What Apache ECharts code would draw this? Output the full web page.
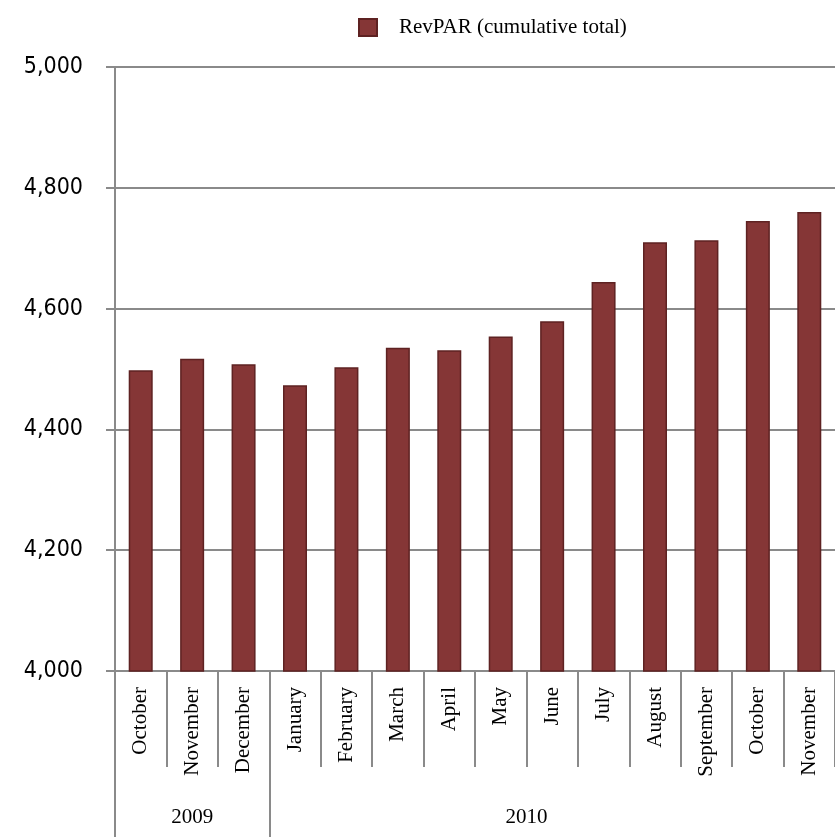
<!DOCTYPE html>
<html>
<head>
<meta charset="utf-8">
<script src="https://cdn.jsdelivr.net/npm/echarts@6/dist/echarts.min.js"></script>
<style>
  html, body { margin: 0; padding: 0; background: #fff; }
  #chart { width: 835px; height: 837px; }
</style>
</head>
<body>
<div id="chart"></div>
<script>
// months shown on the axis
const months = ['October', 'November', 'December', 'January', 'February', 'March', 'April',
  'May', 'June', 'July', 'August', 'September', 'October', 'November']
// RevPAR cumulative total
const revpar = [4498, 4517, 4508, 4473, 4503, 4535, 4531, 4554, 4579, 4644, 4710, 4713, 4745, 4760]
// year groups (label, where it sits in category units, group boundaries)
const years = ['2009', '2010']
const yearLabelAt = [1, 7.5]
const yearBounds = [-0.5, 2.5]
const yTicks = [4000, 4200, 4400, 4600, 4800, 5000]

const gray = '#8a8a8a'
const serif = 'Liberation Serif'

const chart = echarts.init(document.getElementById('chart'))

chart.setOption({
  animation: false,
  legend: {
    data: ['RevPAR (cumulative total)'],
    icon: 'rect',
    left: 353,
    top: 12,
    itemWidth: 18,
    itemHeight: 17,
    textStyle: { fontFamily: serif, fontSize: 21, color: '#000', padding: [0, 0, 0, 17] }
  },
  grid: {
    left: 115,
    top: 67,
    width: 733,
    height: 604
  },
  xAxis: [
    {
      type: 'category',
      data: months,
      position: 'bottom',
      axisLine: { show: true, onZero: false, lineStyle: { color: gray, width: 2 } },
      axisTick: { show: true, interval: 0, length: 96, lineStyle: { color: gray, width: 2 } },
      axisLabel: {
        interval: 0,
        rotate: 90,
        margin: 16,
        fontFamily: serif,
        fontSize: 21,
        color: '#000'
      },
      splitLine: { show: false }
    },
    {
      type: 'value',
      position: 'bottom',
      min: -0.5,
      max: 13.5,
      axisLine: { show: false, onZero: false },
      splitLine: { show: false },
      axisTick: {
        show: true,
        customValues: yearBounds,
        length: 166,
        lineStyle: { color: gray, width: 2 }
      },
      axisLabel: {
        customValues: yearLabelAt,
        margin: 136,
        fontFamily: serif,
        fontSize: 21,
        color: '#000',
        formatter: function (v) {
          return years[yearLabelAt.indexOf(v)]
        }
      }
    }
  ],
  yAxis: {
    type: 'value',
    min: yTicks[0],
    max: yTicks[yTicks.length - 1],
    interval: 200,
    axisLine: { show: true, onZero: false, lineStyle: { color: gray, width: 2 } },
    axisTick: { show: true, length: 9, lineStyle: { color: gray, width: 2 } },
    splitLine: { lineStyle: { color: gray, width: 2 } },
    axisLabel: {
      margin: 32,
      fontFamily: 'DejaVu Sans Condensed',
      fontSize: 23,
      color: '#000',
      formatter: function (v) {
        return v.toLocaleString('en-US')
      }
    }
  },
  series: [
    {
      name: 'RevPAR (cumulative total)',
      type: 'bar',
      xAxisIndex: 0,
      data: revpar,
      barWidth: 24,
      itemStyle: {
        color: '#853636',
        borderColor: '#5e2222',
        borderWidth: 1.5
      }
    }
  ]
})
</script>
</body>
</html>
